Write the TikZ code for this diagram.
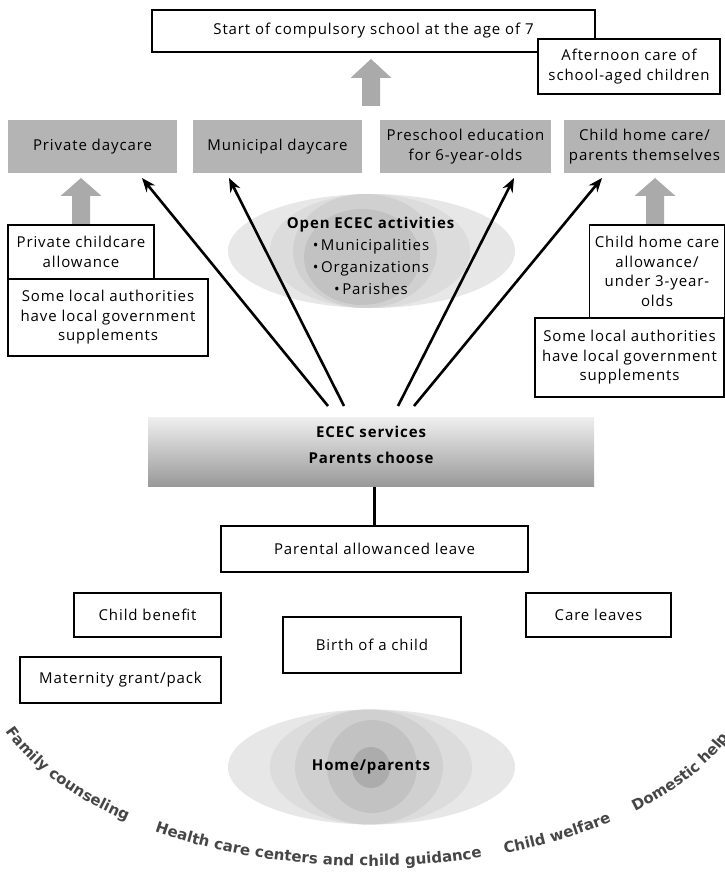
\documentclass[tikz,border=0pt]{standalone}
\usepackage{fontspec}
\setmainfont[LetterSpace=6]{Open Sans}
\newfontfamily\arcfont{DejaVu Sans}
\usetikzlibrary{arrows.meta,decorations.text,calc}
\definecolor{boxgray}{RGB}{180,180,180}
\definecolor{arrgray}{RGB}{170,170,170}
\definecolor{arctext}{RGB}{70,70,70}
\definecolor{elA}{RGB}{231,231,231}
\definecolor{elB}{RGB}{220,220,220}
\definecolor{elC}{RGB}{208,208,208}
\definecolor{elD}{RGB}{194,194,194}
\definecolor{elE}{RGB}{172,172,172}
\newcommand\boxfont{\fontsize{15}{19.5}\selectfont}
\newcommand\arcstyle{\arcfont\bfseries\fontsize{15}{15}\selectfont}
\newcommand\gup[4]{\fill[arrgray] (#1-9,#2) -- (#1+9,#2) -- (#1+9,#3) -- (#1+20.5,#3) -- (#1,#4) -- (#1-20.5,#3) -- (#1-9,#3) -- cycle;}
\begin{document}
\begin{tikzpicture}[x=1pt,y=1pt,
  box/.style={draw=black,line width=1.8pt,fill=white,align=center,inner sep=0pt,font=\boxfont},
  gbox/.style={fill=boxgray,align=center,inner sep=0pt,font=\boxfont},
  blk/.style={line width=2.6pt,-{Stealth[length=14pt,width=11pt]}},
  arcdeco/.style={decorate,decoration={text along path,text color=arctext,text={|\arcstyle|#1}}}
  ]
\useasboundingbox (0,0) rectangle (725,879);
\clip (0,0) rectangle (725,879);

% ---- Open ECEC ellipse
\fill[elA] (371.5,628) ellipse[x radius=143.5,y radius=57];
\fill[elB] (370,628) ellipse[x radius=100,y radius=57];
\fill[elC] (365,628) ellipse[x radius=72,y radius=57];
\fill[elD] (362,622) ellipse[x radius=58,y radius=48];
\node[font=\fontsize{15}{22}\selectfont, align=center] (open) at (371,623) {\textbf{Open ECEC activities}\\ \textbullet\,Municipalities\\ \textbullet\,Organizations\\ \textbullet\,Parishes};

% ---- Home ellipse
\fill[elA] (371.5,112) ellipse[x radius=143.5,y radius=57.5];
\fill[elB] (371,112) ellipse[x radius=101,y radius=57.5];
\fill[elC] (369,112) ellipse[x radius=74,y radius=57.5];
\fill[elD] (372,112.5) ellipse[x radius=45,y radius=46.5];
\fill[elE] (371,111.5) ellipse[x radius=19,y radius=20.5];
\node[font=\boxfont\bfseries] (home) at (371,112) {Home/parents};

% ---- top
\node[box, minimum width=443, minimum height=42] (top) at (373.5,848) {Start of compulsory school at the age of 7};
\node[box, minimum width=182, minimum height=55] (aft) at (629,812.5) {Afternoon care of\\ school-aged children};
\gup{371}{773}{801}{820}

% ---- gray boxes
\node[gbox, minimum width=169, minimum height=53] (priv) at (92.5,732.5) {Private daycare};
\node[gbox, minimum width=169, minimum height=53] (muni) at (277.5,732.5) {Municipal daycare};
\node[gbox, minimum width=171, minimum height=53] (pres) at (465.5,732.5) {Preschool education\\ for 6-year-olds};
\node[gbox, minimum width=161, minimum height=53] (chc) at (644.5,732.5) {Child home care/\\ parents themselves};

\gup{81}{654}{683}{701}
\gup{655}{654}{683}{701}

% ---- allowance boxes
\node[box, minimum width=146, minimum height=54] (lalw) at (81,627) {Private childcare\\ allowance};
\node[box, minimum width=200, minimum height=77] (lsup) at (108,561.5) {Some local authorities\\ have local government\\ supplements};
\node[box, minimum width=135, minimum height=93] (ralw) at (657,607.5) {Child home care\\ allowance/\\ under 3-year-\\ olds};
\node[box, minimum width=189, minimum height=79] (rsup) at (629.5,521.5) {Some local authorities\\ have local government\\ supplements};

% ---- ECEC services
\node[inner sep=0pt, minimum width=446, minimum height=69, top color={rgb,255:red,238;green,238;blue,238}, bottom color={rgb,255:red,152;green,152;blue,152}] (ecec) at (371,426.5) {};
\node[font=\boxfont\bfseries] (ececa) at (371,447) {ECEC services};
\node[font=\boxfont\bfseries] (ececb) at (371,421) {Parents choose};

% ---- black arrows
\coordinate (s1) at (328,473);
\coordinate (s2) at (344,473);
\coordinate (s3) at (398,473);
\coordinate (s4) at (414,473);
\coordinate (t1) at (142,701);
\coordinate (t2) at (229,701);
\coordinate (t3) at (514,701);
\coordinate (t4) at (602,701);
\draw[blk] (s1) -- (t1);
\draw[blk] (s2) -- (t2);
\draw[blk] (s3) -- (t3);
\draw[blk] (s4) -- (t4);

% ---- lower boxes
\node[box, minimum width=307, minimum height=46] (par) at (374.5,330) {Parental allowanced leave};
\draw[line width=2.4pt] (ecec.south -| par.north) -- (par.north);
\node[box, minimum width=147, minimum height=44] (cben) at (147.5,264) {Child benefit};
\node[box, minimum width=145, minimum height=44] (care) at (598.5,264) {Care leaves};
\node[box, minimum width=178, minimum height=56] (birth) at (372,234) {Birth of a child};
\node[box, minimum width=201, minimum height=46] (mat) at (120.5,199) {Maternity grant/pack};

% ---- curved text
\path[arcdeco={Family counseling}] ($(370,213)+(199:385 and 200)$) arc[start angle=199,end angle=260,x radius=385,y radius=200];
\path[arcdeco={Health care centers and child guidance}] ($(370,213)+(236:385 and 200)$) arc[start angle=236,end angle=320,x radius=385,y radius=200];
\path[arcdeco={Child welfare}] ($(370,213)+(290.5:385 and 200)$) arc[start angle=290.5,end angle=340,x radius=385,y radius=200];
\path[arcdeco={Domestic help}] ($(370,213)+(313.5:385 and 200)$) arc[start angle=313.5,end angle=380,x radius=385,y radius=200];
\end{tikzpicture}
\end{document}
